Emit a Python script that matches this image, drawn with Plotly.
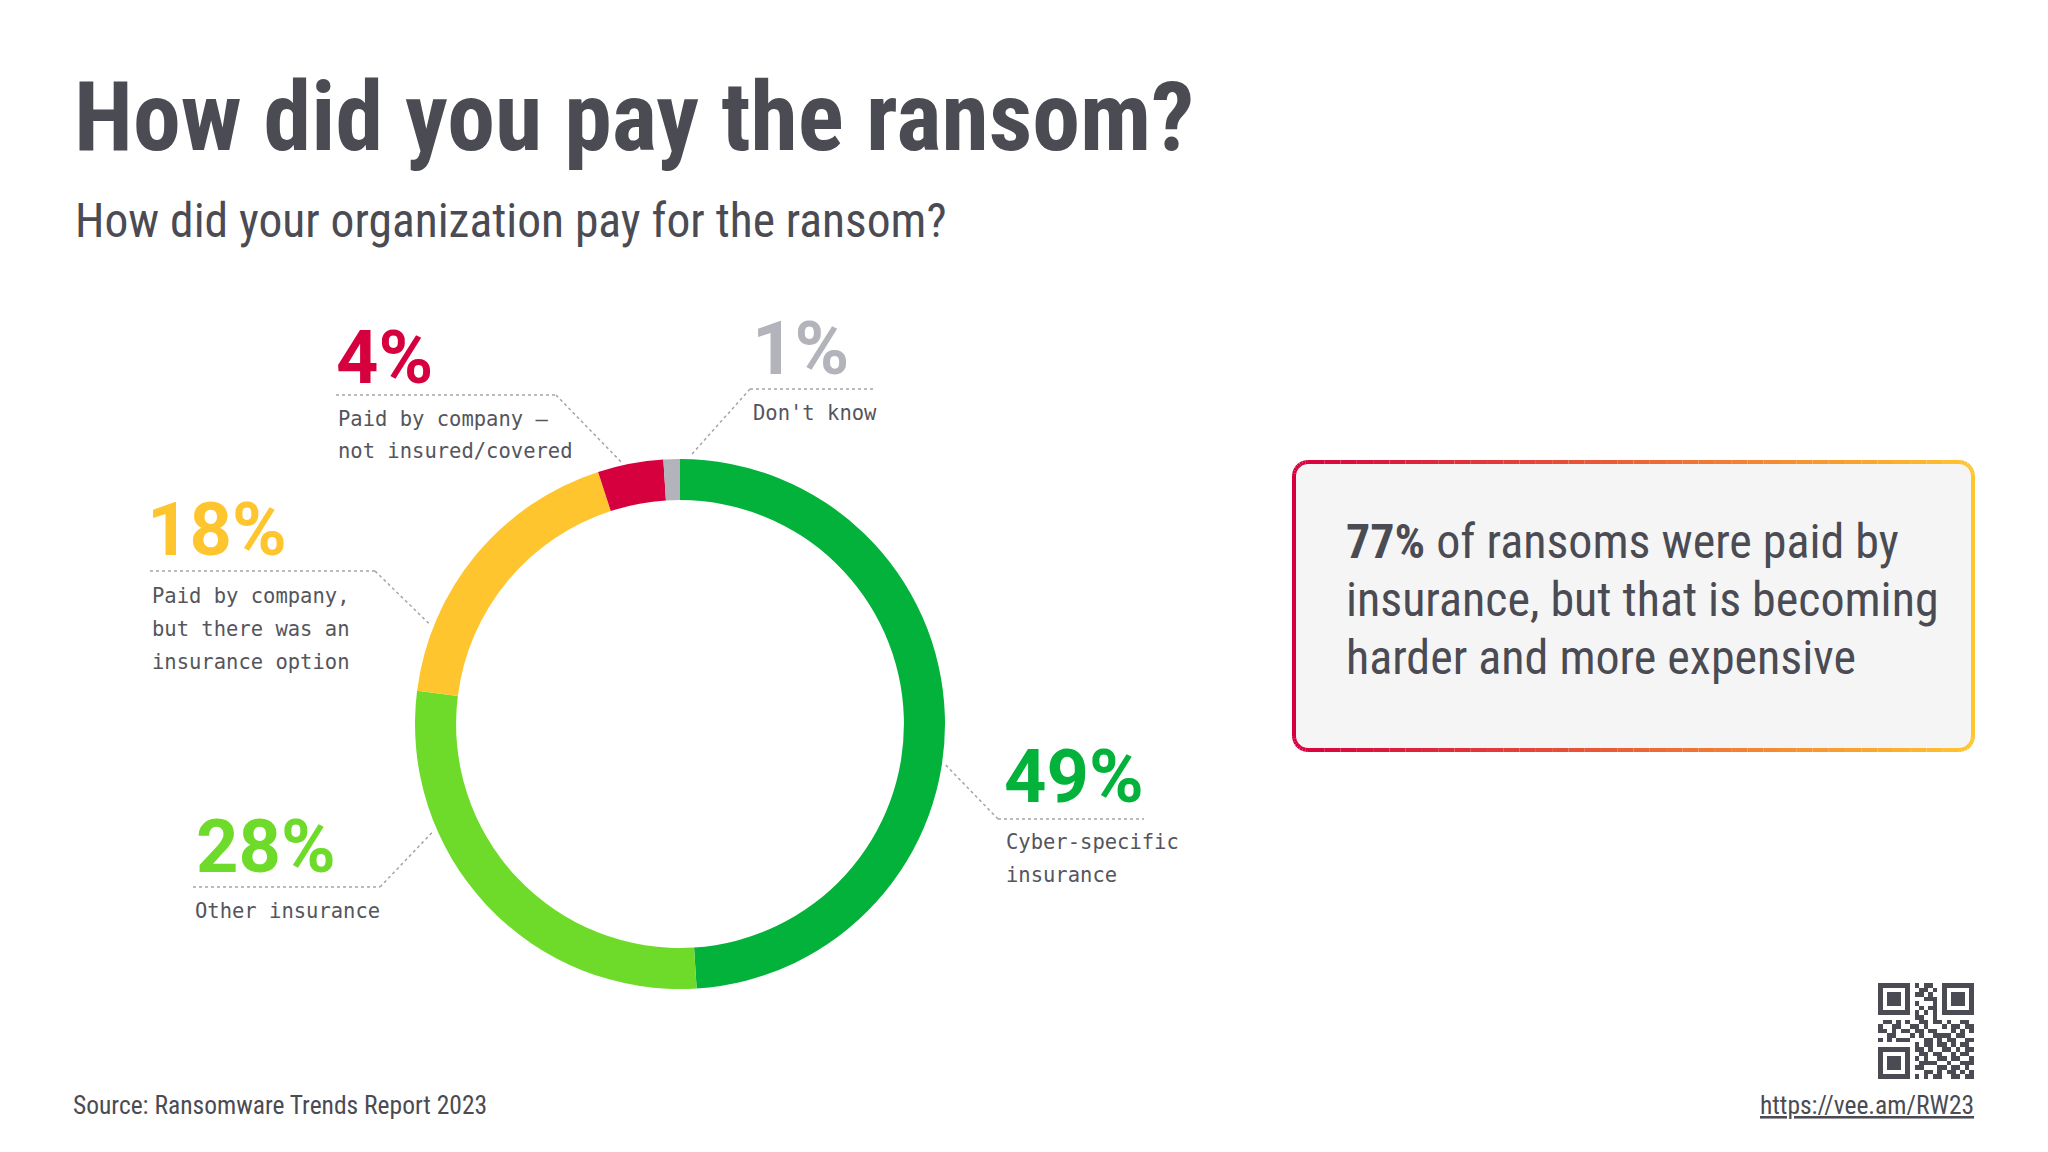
import math
import plotly.graph_objects as go

# ---------------- data ----------------
categories = [
    "Cyber-specific insurance",
    "Other insurance",
    "Paid by company, but there was an insurance option",
    "Paid by company – not insured/covered",
    "Don't know",
]
values = [49, 28, 18, 4, 1]
colors = ["#03B23A", "#6EDB2A", "#FFC52F", "#D6003F", "#B3B3BC"]
label_lines = [
    ["Cyber-specific", "insurance"],
    ["Other insurance"],
    ["Paid by company,", "but there was an", "insurance option"],
    ["Paid by company –", "not insured/covered"],
    ["Don't know"],
]
title = "How did you pay the ransom?"
subtitle = "How did your organization pay for the ransom?"
callout_lines = ["<b>77%</b> of ransoms were paid by", "insurance, but that is becoming", "harder and more expensive"]
source = "Source: Ransomware Trends Report 2023"
url = "https://vee.am/RW23"

qr_rows = [
    "111111101011001111111",
    "100000100110101000001",
    "101110101101001011101",
    "101110100011101011101",
    "101110101000101011101",
    "100000100101101000001",
    "111111101010101111111",
    "000000001100100000000",
    "011010100110110100110",
    "100110011010001011011",
    "110101101101100010101",
    "001100010100111101100",
    "101011100011010110011",
    "000000001011011010110",
    "111111101101001101011",
    "100000100110110010110",
    "101110101010011011001",
    "101110100111100100111",
    "101110101100011011010",
    "100000100011010110101",
    "111111101010110011011",
]

# ---------------- layout constants (pixels) ----------------
W, H = 2048, 1152
CX, CY, R = 672, 716, 265
HOLE = 0.845
DARK = "#4B4B53"
LABEL = "#55555C"
LEAD = "#A4A4AC"
NARROW = "Roboto Condensed, Liberation Sans Narrow, DejaVu Sans Condensed, sans-serif"
MONO = "DejaVu Sans Mono, Liberation Mono, monospace"

# label layout per category: number pos, rule, text x, anchor fraction on ring, side
label_layout = [
    dict(nx=994, ny=768, rule_y=811, rx0=990, rx1=1136, tx=996, elbow="left", frac=0.274, ty=[834, 867]),
    dict(nx=186, ny=838, rule_y=879, rx0=185, rx1=372, tx=185, elbow="right", frac=0.685, ty=[903]),
    dict(nx=137, ny=521, rule_y=563, rx0=142, rx1=367, tx=142, elbow="right", frac=0.81, ty=[588, 621, 654]),
    dict(nx=326, ny=349, rule_y=387, rx0=328, rx1=548, tx=328, elbow="right", frac=0.965, ty=[411, 443]),
    dict(nx=742, ny=340, rule_y=381, rx0=742, rx1=868, tx=743, elbow="left", frac=0.006, ty=[405]),
]

fig = go.Figure()

# donut
fig.add_trace(go.Pie(
    labels=categories, values=values, sort=False, direction="clockwise", rotation=0,
    hole=HOLE, marker=dict(colors=colors, line=dict(width=0)),
    textinfo="none", hoverinfo="label+percent", showlegend=False,
    domain=dict(x=[(CX - R) / W, (CX + R) / W], y=[1 - (CY + R) / H, 1 - (CY - R) / H]),
))

# QR-like decoration
n = len(qr_rows)
qsize = 96
dq = qsize / n
fig.add_trace(go.Heatmap(
    z=[[int(c) for c in row] for row in qr_rows],
    x0=1870 + dq / 2, dx=dq, y0=975 + dq / 2, dy=dq,
    colorscale=[[0, "#FFFFFF"], [1, DARK]], showscale=False, hoverinfo="skip",
    xaxis="x", yaxis="y",
))

shapes = []
annotations = []

def ann(x, y, text, size, color, family, xanchor="left", yanchor="middle", weight="normal"):
    annotations.append(dict(
        x=x, y=y, xref="x", yref="y", text=text, showarrow=False,
        xanchor=xanchor, yanchor=yanchor, align="left",
        font=dict(size=size, color=color, family=family, weight=weight),
    ))

# title / subtitle / footer
ann(64, 109, title, 96, DARK, NARROW, weight="bold")
ann(65, 213, subtitle, 47.5, DARK, NARROW)
ann(63, 1097, source, 25.5, DARK, NARROW)
ann(1968, 1097, "<u>" + url + "</u>", 25.5, DARK, NARROW, xanchor="right")

# labels with leader lines
for val, col, lines, lay in zip(values, colors, label_lines, label_layout):
    ann(lay["nx"], lay["ny"], f"{val}%", 74, col, "Roboto, sans-serif", weight="bold")
    for t, ty in zip(lines, lay["ty"]):
        ann(lay["tx"], ty, t, 20.5, LABEL, MONO)
    shapes.append(dict(type="line", xref="x", yref="y", x0=lay["rx0"], x1=lay["rx1"],
                       y0=lay["rule_y"], y1=lay["rule_y"],
                       line=dict(color=LEAD, width=1.5, dash="3px,3px")))
    ex = lay["rx0"] if lay["elbow"] == "left" else lay["rx1"]
    ang = 2 * math.pi * lay["frac"]
    px = CX + (R + 3) * math.sin(ang)
    py = CY - (R + 3) * math.cos(ang)
    shapes.append(dict(type="line", xref="x", yref="y", x0=ex, y0=lay["rule_y"], x1=px, y1=py,
                       line=dict(color=LEAD, width=1.5, dash="3px,3px")))

# callout box with gradient border
BX0, BX1, BY0, BY1, BR = 1286, 1965, 454, 742, 14
c_left = (0xD6, 0x00, 0x3F)
c_right = (0xFF, 0xC5, 0x2F)

def grad(x):
    t = min(max((x - BX0) / (BX1 - BX0), 0), 1)
    return "rgb({},{},{})".format(*[round(a + (b - a) * t) for a, b in zip(c_left, c_right)])

path = (f"M {BX0+BR},{BY0} L {BX1-BR},{BY0} Q {BX1},{BY0} {BX1},{BY0+BR} L {BX1},{BY1-BR} "
        f"Q {BX1},{BY1} {BX1-BR},{BY1} L {BX0+BR},{BY1} Q {BX0},{BY1} {BX0},{BY1-BR} "
        f"L {BX0},{BY0+BR} Q {BX0},{BY0} {BX0+BR},{BY0} Z")
shapes.append(dict(type="path", xref="x", yref="y", path=path, fillcolor="#F5F5F6",
                   line=dict(width=0), layer="below"))

pts = []
def arc(cx, cy, a0, a1, steps=8):
    for k in range(steps + 1):
        a = math.radians(a0 + (a1 - a0) * k / steps)
        pts.append((cx + BR * math.cos(a), cy + BR * math.sin(a)))

def edge(x0, y0, x1, y1, steps):
    for k in range(1, steps):
        pts.append((x0 + (x1 - x0) * k / steps, y0 + (y1 - y0) * k / steps))

arc(BX0 + BR, BY0 + BR, 180, 270)
edge(BX0 + BR, BY0, BX1 - BR, BY0, 40)
arc(BX1 - BR, BY0 + BR, 270, 360)
edge(BX1, BY0 + BR, BX1, BY1 - BR, 2)
arc(BX1 - BR, BY1 - BR, 0, 90)
edge(BX1 - BR, BY1, BX0 + BR, BY1, 40)
arc(BX0 + BR, BY1 - BR, 90, 180)
edge(BX0, BY1 - BR, BX0, BY0 + BR, 2)
pts.append(pts[0])
for (xa, ya), (xb, yb) in zip(pts[:-1], pts[1:]):
    shapes.append(dict(type="line", xref="x", yref="y", x0=xa, y0=ya, x1=xb, y1=yb,
                       line=dict(color=grad((xa + xb) / 2), width=4)))

for i, t in enumerate(callout_lines):
    ann(1336, 533 + i * 58, t, 48, DARK, NARROW)

fig.update_layout(
    width=W, height=H, margin=dict(l=0, r=0, t=0, b=0),
    paper_bgcolor="white", plot_bgcolor="white",
    xaxis=dict(range=[0, W], visible=False, domain=[0, 1], fixedrange=True),
    yaxis=dict(range=[H, 0], visible=False, domain=[0, 1], fixedrange=True),
    shapes=shapes, annotations=annotations,
)

fig.write_html("out.html")
